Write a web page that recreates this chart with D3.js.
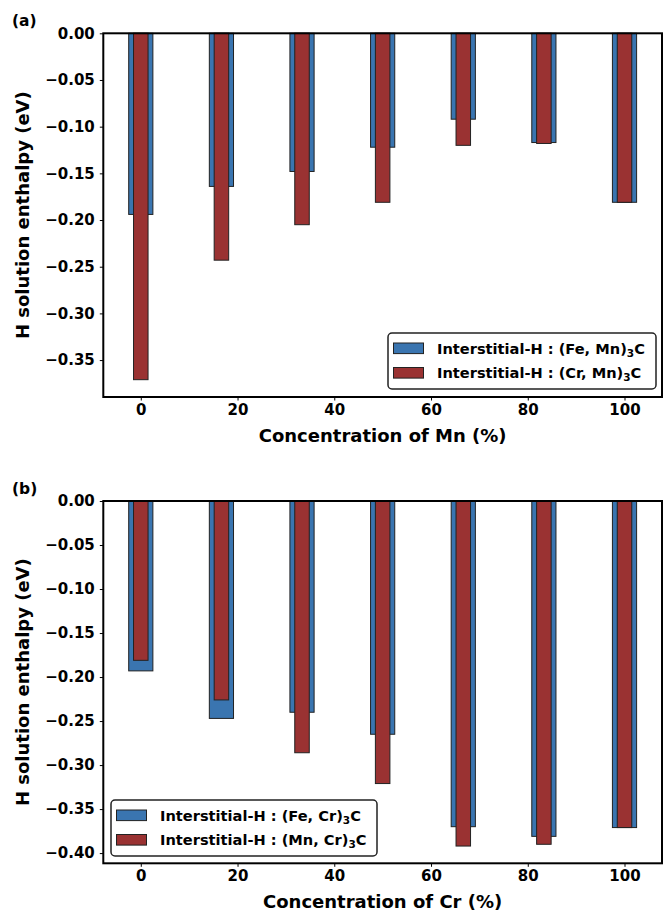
<!DOCTYPE html>
<html>
<head>
<meta charset="utf-8">
<script src="https://cdn.jsdelivr.net/npm/d3@7"></script>
<style>
  html, body { margin: 0; padding: 0; background: #fff; }
  svg { display: block; font-family: "DejaVu Sans", sans-serif; font-weight: bold; }
</style>
</head>
<body>
<svg id="chart" width="666" height="913"></svg>
<script>
// ---------- data ----------
const concentrations = [0, 16.67, 33.33, 50, 66.67, 83.33, 100];
const xTicks = [0, 20, 40, 60, 80, 100];

// panel (a): Mn concentration
const feMnValues = [-0.194, -0.164, -0.148, -0.122, -0.092, -0.117, -0.181];
const crMnValues = [-0.371, -0.243, -0.205, -0.181, -0.120, -0.118, -0.181];
const yTicksA = [0, -0.05, -0.10, -0.15, -0.20, -0.25, -0.30, -0.35];

// panel (b): Cr concentration
const feCrValues = [-0.193, -0.247, -0.240, -0.265, -0.370, -0.381, -0.371];
const mnCrValues = [-0.181, -0.226, -0.286, -0.321, -0.392, -0.390, -0.371];
const yTicksB = [0, -0.05, -0.10, -0.15, -0.20, -0.25, -0.30, -0.35, -0.40];

const panels = [
  { tag: "(a)", xLabel: "Concentration of Mn (%)", s1: feMnValues, s2: crMnValues, yTicks: yTicksA,
    leg1: ["Interstitial-H : (Fe, Mn)", "3", "C"], leg2: ["Interstitial-H : (Cr, Mn)", "3", "C"],
    top: 33.3, bottom: 397, legend: { x: 388, y: 333, w: 268, h: 56 } },
  { tag: "(b)", xLabel: "Concentration of Cr (%)", s1: feCrValues, s2: mnCrValues, yTicks: yTicksB,
    leg1: ["Interstitial-H : (Fe, Cr)", "3", "C"], leg2: ["Interstitial-H : (Mn, Cr)", "3", "C"],
    top: 501, bottom: 863.3, legend: { x: 111, y: 800, w: 266, h: 56 } }
];

// ---------- style ----------
const blue = "#3a75b0", red = "#9a3232", edge = "#222";
const wideW = 5, narrowW = 3;
const left = 103.3, right = 662;
const svg = d3.select("#chart");
const fmt = v => v === 0 ? "0.00" : d3.format(".2f")(v);

panels.forEach(p => {
  const allVals = p.s1.concat(p.s2);
  const ymin = d3.min(allVals) * 1.05;
  const y = d3.scaleLinear().domain([ymin, 0]).range([p.bottom, p.top]);
  const span = 100 + wideW;
  const x = d3.scaleLinear().domain([-wideW / 2 - 0.05 * span, 100 + wideW / 2 + 0.05 * span]).range([left, right]);
  const g = svg.append("g");

  // bars
  g.selectAll("rect.s1").data(p.s1).enter().append("rect")
    .attr("x", (d, i) => x(concentrations[i] - wideW / 2))
    .attr("width", (d, i) => x(concentrations[i] + wideW / 2) - x(concentrations[i] - wideW / 2))
    .attr("y", y(0)).attr("height", d => y(d) - y(0))
    .attr("fill", blue).attr("stroke", edge).attr("stroke-width", 1);
  g.selectAll("rect.s2").data(p.s2).enter().append("rect")
    .attr("x", (d, i) => x(concentrations[i] - narrowW / 2))
    .attr("width", (d, i) => x(concentrations[i] + narrowW / 2) - x(concentrations[i] - narrowW / 2))
    .attr("y", y(0)).attr("height", d => y(d) - y(0))
    .attr("fill", red).attr("stroke", edge).attr("stroke-width", 1);

  // axes
  const yAxis = d3.axisLeft(y).tickValues(p.yTicks).tickFormat(fmt).tickSize(3.5).tickPadding(5);
  const ya = g.append("g").attr("transform", `translate(${left},0)`).call(yAxis);
  const xAxis = d3.axisBottom(x).tickValues(xTicks).tickFormat(d3.format("d")).tickSize(3.5).tickPadding(3.5);
  const xa = g.append("g").attr("transform", `translate(0,${p.bottom})`).call(xAxis);
  [ya, xa].forEach(a => {
    a.select(".domain").remove();
    a.selectAll("text").attr("font-family", "DejaVu Sans").attr("font-weight", "bold").attr("font-size", 15).attr("fill", "#000");
    a.selectAll("line").attr("stroke", "#000").attr("stroke-width", 1);
  });

  // frame
  g.append("rect").attr("x", left).attr("y", p.top).attr("width", right - left).attr("height", p.bottom - p.top)
    .attr("fill", "none").attr("stroke", "#000").attr("stroke-width", 2);

  // labels
  g.append("text").attr("x", (left + right) / 2).attr("y", p.bottom + 45)
    .attr("text-anchor", "middle").attr("font-size", 18).text(p.xLabel);
  g.append("text").attr("transform", `translate(29,${(p.top + p.bottom) / 2}) rotate(-90)`)
    .attr("text-anchor", "middle").attr("font-size", 18).text("H solution enthalpy (eV)");
  g.append("text").attr("x", 12).attr("y", p.top - 7).attr("font-size", 15.5).text(p.tag);

  // legend
  const L = p.legend;
  const lg = g.append("g");
  lg.append("rect").attr("x", L.x).attr("y", L.y).attr("width", L.w).attr("height", L.h)
    .attr("rx", 4).attr("fill", "#fff").attr("fill-opacity", 0.9).attr("stroke", "#222").attr("stroke-width", 1.5);
  [[p.leg1, blue], [p.leg2, red]].forEach(([lab, col], i) => {
    const cy = L.y + 15.3 + i * 24.5;
    lg.append("rect").attr("x", L.x + 5.5).attr("y", cy - 5.3).attr("width", 30).attr("height", 10.6)
      .attr("fill", col).attr("stroke", edge).attr("stroke-width", 1);
    const t = lg.append("text").attr("x", L.x + 49).attr("y", cy + 5.2).attr("font-size", 14.6);
    t.append("tspan").text(lab[0]);
    t.append("tspan").attr("font-size", 10.5).attr("dy", 3).text(lab[1]);
    t.append("tspan").attr("dy", -3).text(lab[2]);
  });
});
</script>
</body>
</html>
